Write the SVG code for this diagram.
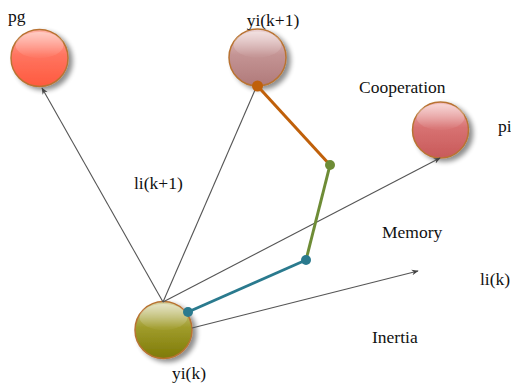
<svg xmlns="http://www.w3.org/2000/svg" width="511" height="385" viewBox="0 0 511 385">
<defs>
<style>
text{font-family:"Liberation Serif","Times New Roman",serif;font-size:17.5px;fill:#111}
.node{stroke:#b87333;stroke-width:1.5}
.gl{stroke:#555;stroke-width:1.1;fill:none}
</style>
<filter id="sh" x="-30%" y="-30%" width="170%" height="170%">
<feGaussianBlur in="SourceAlpha" stdDeviation="2.5"/>
<feOffset dx="4" dy="3" result="b"/>
<feComponentTransfer><feFuncA type="linear" slope="0.45"/></feComponentTransfer>
<feMerge><feMergeNode/><feMergeNode in="SourceGraphic"/></feMerge>
</filter>
<linearGradient id="gPg" x1="0" y1="0" x2="0" y2="1"><stop offset="0" stop-color="#ffb0a4"/><stop offset="0.45" stop-color="#ff7460"/><stop offset="1" stop-color="#ff5a3e"/></linearGradient>
<linearGradient id="gY1" x1="0" y1="0" x2="0" y2="1"><stop offset="0" stop-color="#ecd2d2"/><stop offset="0.45" stop-color="#c49494"/><stop offset="1" stop-color="#b07a7a"/></linearGradient>
<linearGradient id="gCo" x1="0" y1="0" x2="0" y2="1"><stop offset="0" stop-color="#f4c0c0"/><stop offset="0.45" stop-color="#d87272"/><stop offset="1" stop-color="#c85a5a"/></linearGradient>
<linearGradient id="gYk" x1="0" y1="0" x2="0" y2="1"><stop offset="0" stop-color="#d8d6a8"/><stop offset="0.45" stop-color="#a09c2c"/><stop offset="1" stop-color="#7e7a06"/></linearGradient>
<linearGradient id="hl" x1="0" y1="0" x2="0" y2="1"><stop offset="0" stop-color="#fff" stop-opacity="0.4"/><stop offset="1" stop-color="#fff" stop-opacity="0.03"/></linearGradient>
<marker id="ar" viewBox="0 0 10 10" refX="9" refY="5" markerWidth="7" markerHeight="7" orient="auto" markerUnits="userSpaceOnUse"><path d="M0,1 L10,5 L0,9 L3,5 Z" fill="#444"/></marker>
</defs>
<rect width="511" height="385" fill="#fff"/>
<g id="pg">
<circle cx="39.5" cy="58" r="28.5" fill="url(#gPg)" class="node" filter="url(#sh)"/>
<ellipse cx="39.5" cy="45" rx="24" ry="13" fill="url(#hl)"/>
<text x="8" y="22">pg</text>
</g>
<g id="yik1">
<circle cx="257.5" cy="57.5" r="28.5" fill="url(#gY1)" class="node" filter="url(#sh)"/>
<ellipse cx="257.5" cy="44.5" rx="24" ry="13" fill="url(#hl)"/>
<text x="273" y="26" text-anchor="middle">yi(k+1)</text>
</g>
<g id="pi">
<circle cx="440.5" cy="130" r="28" fill="url(#gCo)" class="node" filter="url(#sh)"/>
<ellipse cx="440.5" cy="117" rx="24" ry="13" fill="url(#hl)"/>
<text x="359" y="93">Cooperation</text>
<text x="498" y="132">pi</text>
</g>
<g id="yik">
<circle cx="163.5" cy="330" r="28.5" fill="url(#gYk)" class="node" filter="url(#sh)"/>
<ellipse cx="163.5" cy="317" rx="24" ry="13" fill="url(#hl)"/>
<text x="172" y="379">yi(k)</text>
</g>
<g id="labels">
<text x="134" y="189">li(k+1)</text>
<text x="382" y="238">Memory</text>
<text x="480" y="285">li(k)</text>
<text x="372" y="343">Inertia</text>
</g>
<g id="connectors">
<line class="gl" x1="163" y1="302" x2="42" y2="88" marker-end="url(#ar)"/>
<line class="gl" x1="163" y1="302" x2="255" y2="90"/>
<line class="gl" x1="163" y1="302" x2="440" y2="158" marker-end="url(#ar)"/>
<line class="gl" x1="192" y1="328" x2="418" y2="271" marker-end="url(#ar)"/>
<line x1="188" y1="312" x2="306" y2="260" stroke="#2a7a8e" stroke-width="3"/>
<line x1="306" y1="260" x2="330" y2="165" stroke="#6e8c36" stroke-width="3"/>
<line x1="257.5" y1="86" x2="330" y2="165" stroke="#c0600a" stroke-width="3"/>
<circle cx="188" cy="312" r="5" fill="#2a7a8e"/>
<circle cx="306" cy="260" r="5" fill="#2a7a8e"/>
<circle cx="330" cy="165" r="5" fill="#6e8c36"/>
<circle cx="257.5" cy="86" r="5.5" fill="#c0600a"/>
</g>
</svg>
